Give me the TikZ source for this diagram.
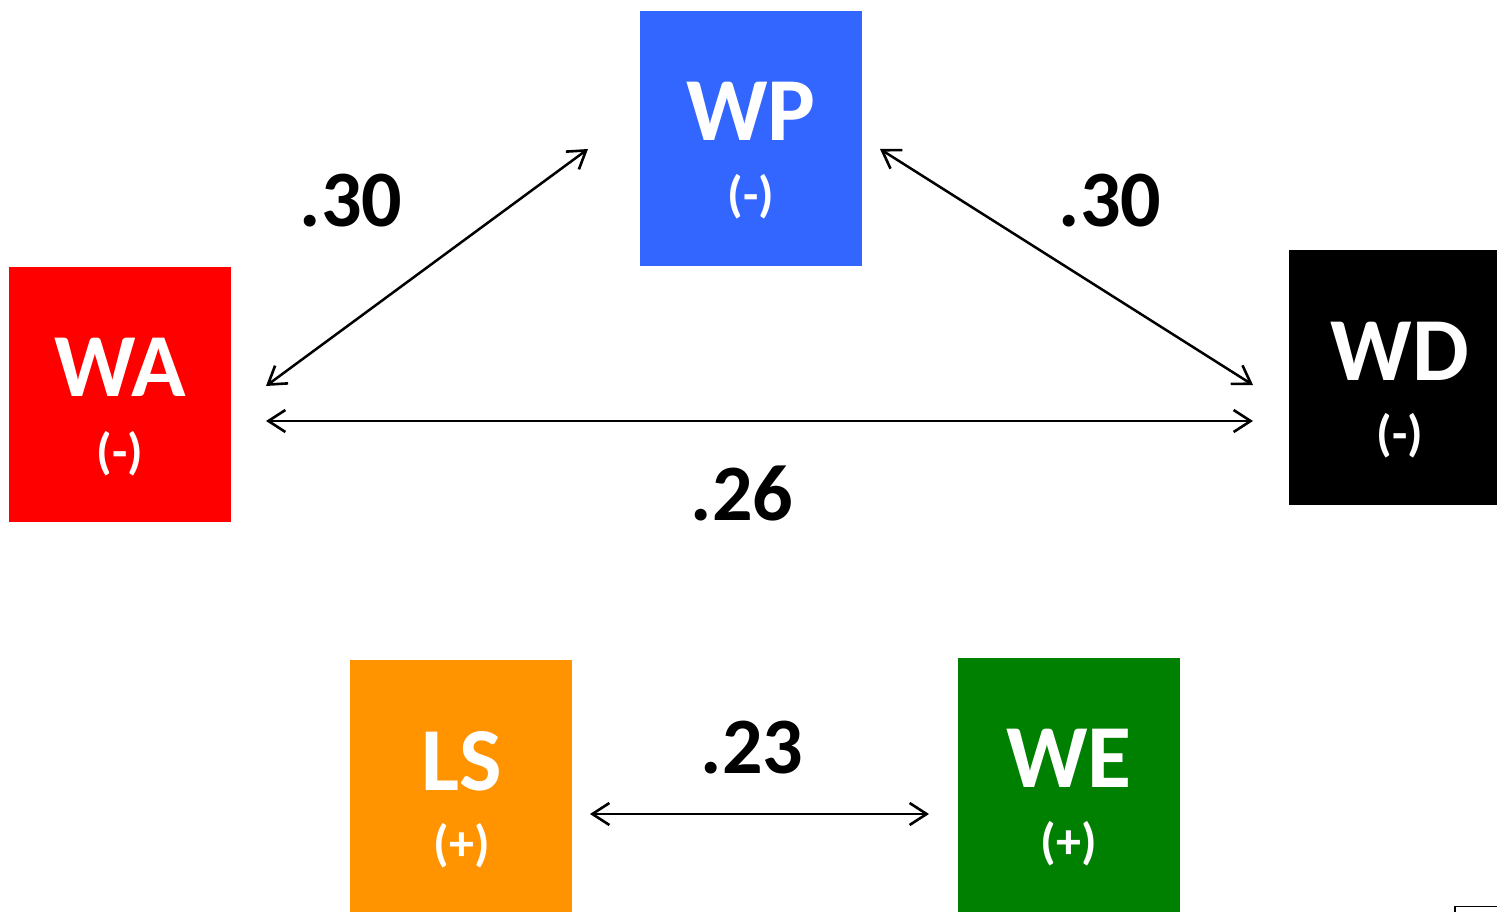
\documentclass[tikz,border=0pt]{standalone}
\usepackage{fontspec}
\setmainfont{Carlito}
\usetikzlibrary{arrows.meta}
\definecolor{cwa}{RGB}{255,0,0}
\definecolor{cwp}{RGB}{51,102,255}
\definecolor{cls}{RGB}{255,147,0}
\definecolor{cwe}{RGB}{0,128,0}
\tikzset{
  box/.style={draw=none,fill=#1,minimum width=222pt,minimum height=255pt,inner sep=0pt,outer sep=0pt},
  title/.style={text=white,font=\bfseries\fontsize{90}{90}\selectfont,inner sep=0pt},
  sign/.style={text=white,font=\bfseries\fontsize{50}{50}\selectfont,inner sep=0pt},
  coef/.style={text=black,font=\bfseries\fontsize{80}{80}\selectfont,inner sep=0pt},
  link/.style={line width=2.5pt,{Straight Barb[length=17pt,width=22pt,line width=2.6pt]}-{Straight Barb[length=17pt,width=22pt,line width=2.6pt]}}
}
\begin{document}
\begin{tikzpicture}[x=1pt,y=-1pt]
\useasboundingbox (0,0) rectangle (1497,912);
\fill[white] (0,0) rectangle (1497,912);
% boxes
\node[box=cwa] (WA) at (120,394.5) {};
\node[box=cwp] (WP) at (751,138.5) {};
\node[box=black,minimum width=208pt,anchor=north west] (WD) at (1289,250) {};
\node[box=cls,minimum height=252pt,anchor=north west] (LS) at (350,660) {};
\node[box=cwe,minimum height=254pt,anchor=north west] (WE) at (958,658) {};
% texts
\node[title] (tWA) at (120,367) {WA};
\node[sign] (sWA) at (120,454) {(-)};
\node[title] (tWP) at (751,111) {WP};
\node[sign] (sWP) at (751,197) {(-)};
\node[title] (tWD) at (1400,351) {WD};
\node[sign] (sWD) at (1400,436) {(-)};
\node[title] (tLS) at (462,761) {LS};
\node[sign] (sLS) at (462,846) {(+)};
\node[title] (tWE) at (1069,758) {WE};
\node[sign] (sWE) at (1069,844) {(+)};
% arrow ends
\coordinate (a1) at (266,386);
\coordinate (a2) at (588,149);
\coordinate (b1) at (880,149);
\coordinate (b2) at (1253,385);
\coordinate (c1) at (266,421);
\coordinate (c2) at (1253,421);
\coordinate (d1) at (590,814);
\coordinate (d2) at (929,814);
\draw[link] (a1) -- (a2);
\draw[link] (b1) -- (b2);
\draw[link] (c1) -- (c2);
\draw[link] (d1) -- (d2);
% coefficients
\node[coef] (k1) at (351,201) {.30};
\node[coef] (k2) at (1110,201) {.30};
\node[coef] (k3) at (742,493) {.26};
\node[coef] (k4) at (752,748) {.23};
% small corner mark
\draw[line width=1.5pt] (1455,912) -- (1455,906.5) -- (1497,906.5);
\end{tikzpicture}
\end{document}
